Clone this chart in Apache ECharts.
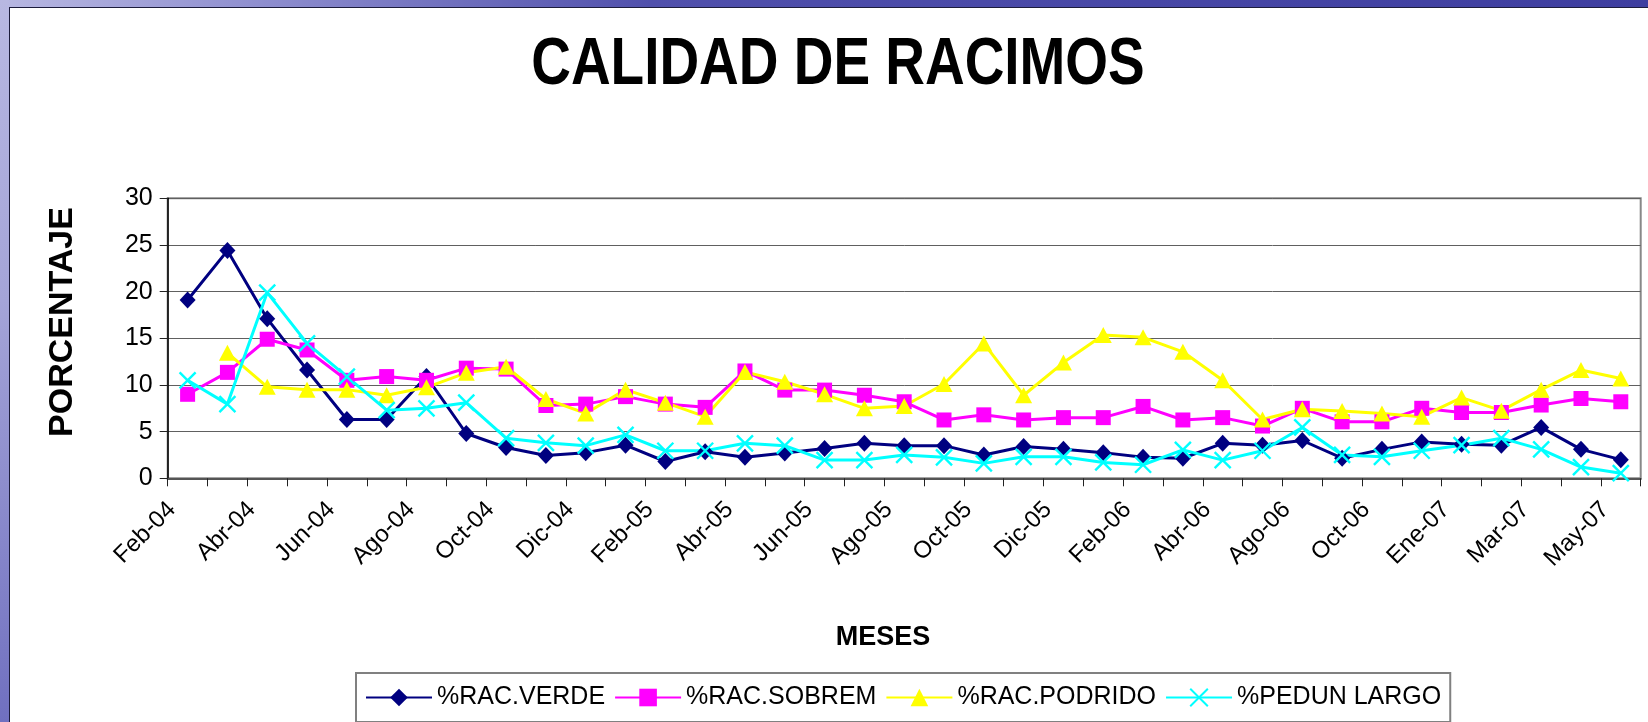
<!DOCTYPE html>
<html>
<head>
<meta charset="utf-8">
<title>Calidad de racimos</title>
<script src="https://cdn.jsdelivr.net/npm/echarts@6/dist/echarts.min.js"></script>
<style>
    html, body { margin: 0; padding: 0; }
    body { width: 1648px; height: 722px; position: relative; overflow: hidden; background: #fff; }
    #bandTop { position: absolute; left: 0; top: 0; width: 1648px; height: 7px;
        background: linear-gradient(to right, #b8b8e2 0px, #9090d0 250px, #5050ac 650px, #3e3ea0 1648px); }
    #bandLeft { position: absolute; left: 0; top: 0; width: 9px; height: 722px;
        background: linear-gradient(to bottom, #b8b8e2 0px, #a4a4d8 300px, #7070c0 722px); }
    #panel { position: absolute; left: 9px; top: 7px; right: 0; bottom: 0; background: #fff;
        border-top: 1px solid #1c1c3c; border-left: 1px solid #1c1c3c; }
    #chart { position: absolute; left: 0; top: 0; width: 1648px; height: 722px; }
</style>
</head>
<body>
<div id="bandTop"></div>
<div id="bandLeft"></div>
<div id="panel"></div>
<div id="chart"></div>
<script>
// months (only every second one is labelled on the axis)
const months = [
    "Feb-04", "Mar-04", "Abr-04", "May-04", "Jun-04", "Jul-04", "Ago-04", "Sep-04",
    "Oct-04", "Nov-04", "Dic-04", "Ene-05", "Feb-05", "Mar-05", "Abr-05", "May-05",
    "Jun-05", "Jul-05", "Ago-05", "Sep-05", "Oct-05", "Nov-05", "Dic-05", "Ene-06",
    "Feb-06", "Mar-06", "Abr-06", "Jun-06", "Ago-06", "Sep-06", "Oct-06", "Dic-06",
    "Ene-07", "Feb-07", "Mar-07", "Abr-07", "May-07",
];

const racVerde = [
    19.1, 24.4, 17.1, 11.6, 6.3, 6.3, 10.9, 4.8, 3.3, 2.45,
    2.75, 3.55, 1.8, 2.85, 2.25, 2.7, 3.2, 3.75, 3.5, 3.5,
    2.5, 3.4, 3.1, 2.75, 2.25, 2.15, 3.75, 3.55, 4.05, 2.15,
    3.1, 3.9, 3.65, 3.55, 5.45, 3.1, 2.0,
];
const racSobrem = [
    9.0, 11.35, 14.9, 13.75, 10.5, 10.9, 10.5, 11.8, 11.7, 7.8,
    7.95, 8.75, 7.95, 7.6, 11.5, 9.45, 9.45, 8.9, 8.2, 6.25,
    6.8, 6.25, 6.5, 6.5, 7.7, 6.25, 6.5, 5.6, 7.5, 6.05,
    6.05, 7.5, 7.05, 7.05, 7.85, 8.55, 8.2,
];
const racPodrido = [
    null, 13.45, 9.8, 9.5, 9.5, 8.9, 9.75, 11.3, 11.95, 8.5,
    6.95, 9.5, 8.1, 6.6, 11.4, 10.35, 9.0, 7.5, 7.75, 10.1,
    14.45, 8.9, 12.4, 15.35, 15.1, 13.55, 10.5, 6.3, 7.4, 7.2,
    6.95, 6.6, 8.65, 7.25, 9.5, 11.6, 10.7,
];
const pedunLargo = [
    10.5, 7.95, 19.9, 14.45, 10.9, 7.3, 7.5, 8.1, 4.3, 3.8,
    3.5, 4.65, 2.95, 2.95, 3.75, 3.5, 1.95, 1.95, 2.5, 2.25,
    1.6, 2.3, 2.3, 1.7, 1.45, 3.05, 1.95, 2.95, 5.45, 2.5,
    2.3, 2.95, 3.55, 4.3, 3.1, 1.2, 0.55,
];

const yTicks = { min: 0, max: 30, interval: 5 };

const FONT = "'Liberation Sans', Arial, sans-serif";
const crossPath = "path://M0,0L16,16M16,0L0,16";

function lineSeries(name, data, color, symbol, size, extra) {
    return Object.assign({
        name: name,
        type: "line",
        data: data,
        symbol: symbol,
        symbolSize: size,
        showSymbol: true,
        animation: false,
        lineStyle: { color: color, width: 3 },
        itemStyle: { color: color },
    }, extra || {});
}

const chart = echarts.init(document.getElementById("chart"), null, { renderer: "canvas" });

chart.setOption({
    backgroundColor: "transparent",
    textStyle: { fontFamily: FONT },
    graphic: [
        {
            type: "text",
            x: 838, y: 66,
            scaleX: 0.82,
            style: {
                text: "CALIDAD DE RACIMOS",
                font: "bold 67px " + FONT,
                fill: "#000",
                align: "center",
                verticalAlign: "middle",
            },
        },
        {
            type: "text",
            x: 63, y: 322,
            rotation: Math.PI / 2,
            style: {
                text: "PORCENTAJE",
                font: "bold 34px " + FONT,
                fill: "#000",
                align: "center",
                verticalAlign: "middle",
            },
        },
        {
            type: "text",
            x: 883, y: 638,
            style: {
                text: "MESES",
                font: "bold 27px " + FONT,
                fill: "#000",
                align: "center",
                verticalAlign: "middle",
            },
        },
    ],
    grid: {
        left: 167.7,
        right: 7.3,
        top: 198.3,
        bottom: 243.7,
        show: true,
        borderColor: "#888",
        borderWidth: 2,
        backgroundColor: "transparent",
    },
    legend: {
        left: 356,
        top: 673,
        padding: [12, 9, 12, 9],
        itemWidth: 66,
        itemHeight: 22,
        itemGap: 9,
        borderColor: "#808080",
        borderWidth: 2,
        backgroundColor: "#fff",
        textStyle: { fontSize: 25, color: "#000", fontFamily: FONT },
        data: ["%RAC.VERDE", "%RAC.SOBREM", "%RAC.PODRIDO", "%PEDUN LARGO"],
    },
    xAxis: {
        type: "category",
        data: months,
        boundaryGap: true,
        axisLine: { lineStyle: { color: "#555", width: 2 } },
        axisTick: { show: true, interval: 0, length: 8, lineStyle: { color: "#222", width: 1 } },
        axisLabel: {
            interval: 1,
            rotate: 45,
            margin: 12,
            padding: [0, 22, 0, 0],
            fontSize: 24,
            color: "#000",
            fontFamily: FONT,
        },
        splitLine: { show: false },
    },
    yAxis: {
        type: "value",
        min: yTicks.min,
        max: yTicks.max,
        interval: yTicks.interval,
        axisLine: { show: true, lineStyle: { color: "#000", width: 1.5 } },
        axisTick: { show: true, length: 8, lineStyle: { color: "#222" } },
        axisLabel: { fontSize: 25, color: "#000", margin: 15, fontFamily: FONT },
        splitLine: { show: true, lineStyle: { color: "#606060", width: 1 } },
    },
    series: [
        lineSeries("%RAC.VERDE", racVerde, "#000080", "diamond", [16, 17]),
        lineSeries("%RAC.SOBREM", racSobrem, "#FF00FF", "rect", 15),
        lineSeries("%RAC.PODRIDO", racPodrido, "#FFFF00", "triangle", [17, 16]),
        lineSeries("%PEDUN LARGO", pedunLargo, "#00FFFF", crossPath, 16, {
            itemStyle: { color: "#00FFFF", borderColor: "#00FFFF", borderWidth: 2.4 },
        }),
    ],
});
</script>
</body>
</html>
